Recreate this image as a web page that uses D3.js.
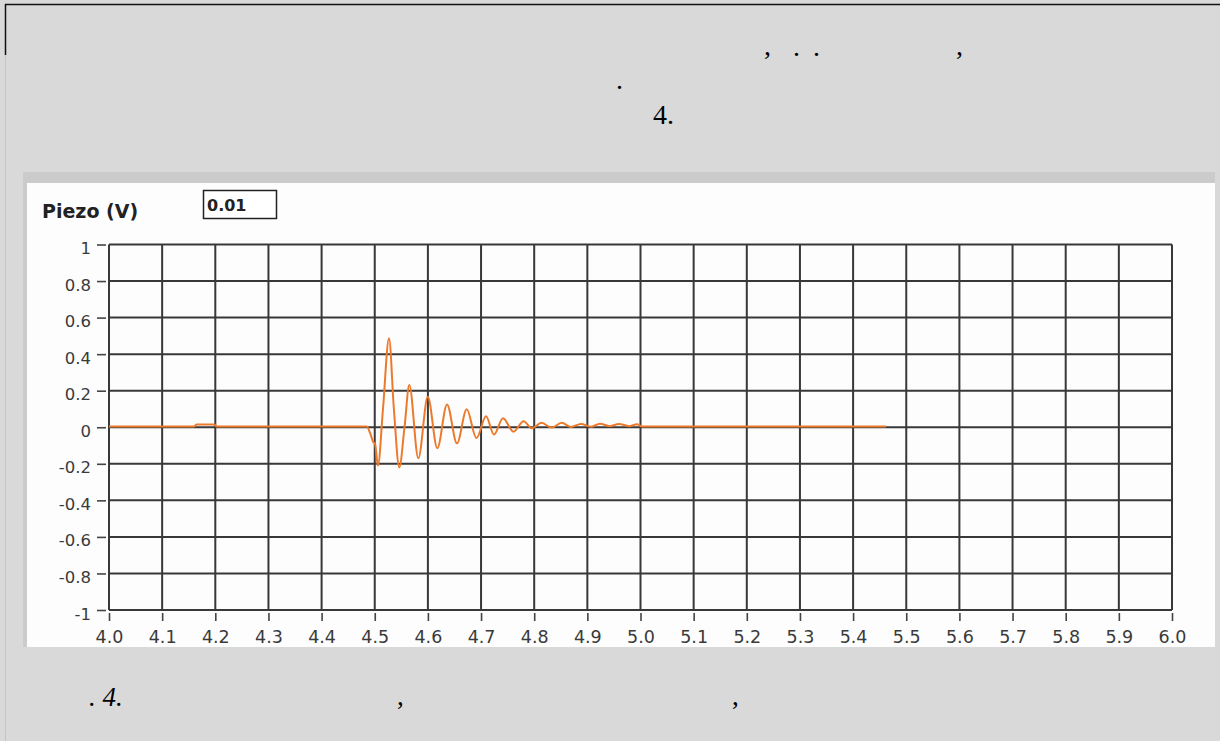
<!DOCTYPE html>
<html>
<head>
<meta charset="utf-8">
<script src="https://cdn.jsdelivr.net/npm/d3@7"></script>
<style>
  html, body { margin: 0; padding: 0; background: #d9d9d9; }
  svg { display: block; }
</style>
</head>
<body>
<svg id="chart" width="1220" height="741"></svg>
<script>
// ---- data ----
const xTickValues = [4.0,4.1,4.2,4.3,4.4,4.5,4.6,4.7,4.8,4.9,5.0,5.1,5.2,5.3,5.4,5.5,5.6,5.7,5.8,5.9,6.0];
const xTickLabels = ["4.0","4.1","4.2","4.3","4.4","4.5","4.6","4.7","4.8","4.9","5.0","5.1","5.2","5.3","5.4","5.5","5.6","5.7","5.8","5.9","6.0"];
const yTickValues = [-1,-0.8,-0.6,-0.4,-0.2,0,0.2,0.4,0.6,0.8,1];
const yTickLabels = ["-1","-0.8","-0.6","-0.4","-0.2","0","0.2","0.4","0.6","0.8","1"];
const yAxisTitle = "Piezo (V)";
const boxValue = "0.01";

// piezo signal (time s, volts)
const sigTime = [4.000,4.160,4.165,4.198,4.203,4.485,4.491,4.497,4.5005,4.506,4.5155,4.5268,4.536,4.5462,4.556,4.565,4.582,4.5998,4.6177,4.636,4.6547,4.673,4.6914,4.7093,4.7244,4.7413,4.761,4.7799,4.7959,4.8137,4.8329,4.8517,4.8692,4.888,4.9069,4.9238,4.9426,4.9595,4.9784,4.9934,5.003,5.462];
const sigVolt = [0.004,0.004,0.015,0.015,0.004,0.004,-0.03,-0.08,-0.09,-0.21,0.10,0.487,0.10,-0.22,0.0,0.231,-0.17,0.167,-0.115,0.125,-0.088,0.098,-0.06,0.06,-0.04,0.049,-0.024,0.033,-0.006,0.024,-0.002,0.024,0.002,0.018,0.003,0.019,0.006,0.018,0.006,0.016,0.004,0.004];

// page texts (glyph remnants as shown)
const topTexts = [
  {t: ",", x: 764, y: 55},
  {t: ".", x: 793, y: 56},
  {t: ".", x: 813, y: 56},
  {t: ",", x: 956, y: 55},
  {t: ".", x: 616, y: 89},
  {t: "4.", x: 653, y: 124}
];
const bottomTexts = [
  {t: ". 4.", x: 89, y: 706, italic: true},
  {t: ",", x: 397, y: 705},
  {t: ",", x: 732, y: 705}
];

// ---- drawing ----
const svg = d3.select("#chart");

// page frame lines
svg.append("line").attr("x1", 5).attr("x2", 1220).attr("y1", 4.5).attr("y2", 4.5)
  .attr("stroke", "#111").attr("stroke-width", 1.5);
svg.append("line").attr("x1", 5.5).attr("x2", 5.5).attr("y1", 4).attr("y2", 55)
  .attr("stroke", "#111").attr("stroke-width", 1.5);
svg.append("line").attr("x1", 5.5).attr("x2", 5.5).attr("y1", 55).attr("y2", 741)
  .attr("stroke", "#c4c4c4").attr("stroke-width", 1);

// texts
svg.selectAll("text.top").data(topTexts).enter().append("text")
  .attr("class", "top")
  .attr("x", d => d.x).attr("y", d => d.y)
  .attr("font-family", "'Liberation Serif', 'Times New Roman', serif")
  .attr("font-size", 28).attr("fill", "#000")
  .text(d => d.t);
svg.selectAll("text.bot").data(bottomTexts).enter().append("text")
  .attr("class", "bot")
  .attr("x", d => d.x).attr("y", d => d.y)
  .attr("font-family", "'Liberation Serif', 'Times New Roman', serif")
  .attr("font-style", d => d.italic ? "italic" : "normal")
  .attr("font-size", 27).attr("fill", "#000")
  .attr("xml:space", "preserve")
  .text(d => d.t);

// panel
svg.append("rect").attr("x", 23).attr("y", 172).attr("width", 1192).attr("height", 475)
  .attr("fill", "#cbcbcb");
svg.append("rect").attr("x", 27).attr("y", 183).attr("width", 1188).attr("height", 464)
  .attr("fill", "#fdfdfd");

// scales
const x = d3.scaleLinear().domain([4, 6]).range([109, 1172]);
const y = d3.scaleLinear().domain([-1, 1]).range([610, 244.5]);

// grid
const gridColor = "#383838";
svg.append("g").selectAll("line").data(xTickValues).enter().append("line")
  .attr("x1", d => x(d)).attr("x2", d => x(d))
  .attr("y1", y(1)).attr("y2", y(-1))
  .attr("stroke", gridColor).attr("stroke-width", 2);
svg.append("g").selectAll("line").data(yTickValues).enter().append("line")
  .attr("x1", x(4)).attr("x2", x(6))
  .attr("y1", d => y(d)).attr("y2", d => y(d))
  .attr("stroke", gridColor).attr("stroke-width", 2);

// axes
const yAxis = d3.axisLeft(y).tickValues(yTickValues)
  .tickFormat((d, i) => yTickLabels[i]).tickSize(9).tickPadding(6);
const gy = svg.append("g").attr("transform", "translate(106,0)").call(yAxis);
gy.select(".domain").remove();
gy.selectAll(".tick line").attr("stroke", "#444").attr("stroke-width", 1.6);
gy.selectAll(".tick text")
  .attr("font-family", "'DejaVu Sans', Verdana, sans-serif")
  .attr("font-size", 16.5).attr("fill", "#3a3a3a").attr("dy", "0.55em");

const xAxis = d3.axisBottom(x).tickValues(xTickValues)
  .tickFormat((d, i) => xTickLabels[i]).tickSize(8).tickPadding(6);
const gx = svg.append("g").attr("transform", "translate(0,613)").call(xAxis);
gx.select(".domain").remove();
gx.selectAll(".tick line").attr("stroke", "#444").attr("stroke-width", 1.6);
gx.selectAll(".tick text")
  .attr("font-family", "'DejaVu Sans', Verdana, sans-serif")
  .attr("font-size", 17.5).attr("fill", "#3a3a3a").attr("dy", "0.9em");

// signal
const pts = sigTime.map((t, i) => [t, sigVolt[i]]);
const line = d3.line().x(d => x(d[0])).y(d => y(d[1])).curve(d3.curveMonotoneX);
svg.append("path").datum(pts)
  .attr("d", line)
  .attr("fill", "none")
  .attr("stroke", "#ec7a2c")
  .attr("stroke-width", 2)
  .attr("stroke-linejoin", "round");

// title and value box
svg.append("text").attr("x", 42).attr("y", 218)
  .attr("font-family", "'DejaVu Sans', Verdana, sans-serif")
  .attr("font-weight", "bold").attr("font-size", 19).attr("fill", "#222")
  .text(yAxisTitle);
svg.append("rect").attr("x", 203.5).attr("y", 190.5).attr("width", 73).attr("height", 28)
  .attr("fill", "#fff").attr("stroke", "#222").attr("stroke-width", 1.5);
svg.append("text").attr("x", 207).attr("y", 211)
  .attr("font-family", "'DejaVu Sans', Verdana, sans-serif")
  .attr("font-weight", "bold").attr("font-size", 16).attr("fill", "#222")
  .text(boxValue);
</script>
</body>
</html>
